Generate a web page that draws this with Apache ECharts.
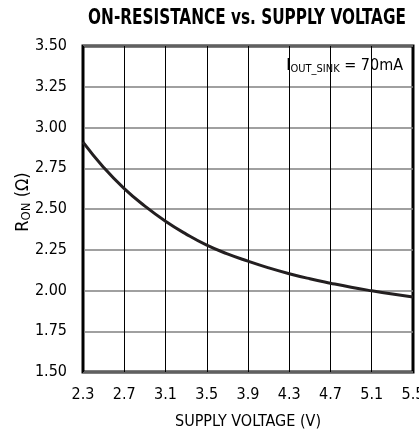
<!DOCTYPE html>
<html><head><meta charset="utf-8">
<script src="https://cdn.jsdelivr.net/npm/echarts@6/dist/echarts.min.js"></script>
<style>html,body{margin:0;padding:0;background:#fff}#c{width:419px;height:433px}</style>
</head><body><div id="c"></div>
<script>
const supplyVoltage = [2.3, 2.5, 2.7, 2.9, 3.1, 3.3, 3.5, 3.7, 3.9, 4.1, 4.3, 4.5, 4.7, 4.9, 5.1, 5.3, 5.5];
const onResistance = [2.91, 2.755, 2.625, 2.518, 2.425, 2.346, 2.278, 2.225, 2.18, 2.139, 2.103, 2.072, 2.045, 2.02, 1.998, 1.978, 1.96];
const xTicks = [2.3, 2.7, 3.1, 3.5, 3.9, 4.3, 4.7, 5.1, 5.5];
const yTicks = [1.5, 1.75, 2.0, 2.25, 2.5, 2.75, 3.0, 3.25, 3.5];
const FONT = 'DejaVu Sans Condensed';
const chart = echarts.init(document.getElementById('c'));
chart.setOption({
  animation: false,
  grid: {left: 83, right: 6, top: 46, bottom: 61, show: true, borderColor: '#000', borderWidth: 3, backgroundColor: 'transparent', outerBoundsMode: 'none'},
  xAxis: {
    type: 'value', min: 2.3, max: 5.5, interval: 0.4,
    name: 'SUPPLY VOLTAGE (V)', nameLocation: 'middle', nameGap: 42,
    nameTextStyle: {fontFamily: FONT, fontSize: 16, color: '#000'},
    axisLine: {show: false}, axisTick: {show: false},
    axisLabel: {fontFamily: FONT, fontSize: 16, color: '#000', margin: 15, formatter: v => v.toFixed(1), showMaxLabel: true},
    splitLine: {show: true, lineStyle: {color: '#000', width: 1}}
  },
  yAxis: {
    type: 'value', min: 1.5, max: 3.5, interval: 0.25,
    axisLine: {show: false}, axisTick: {show: false},
    axisLabel: {fontFamily: FONT, fontSize: 16, color: '#000', margin: 16, formatter: v => v.toFixed(2)},
    splitLine: {show: true, lineStyle: {color: '#808080', width: 1.5}}
  },
  graphic: [{
    type: 'text', x: 247, y: 18, scaleY: 1.25, originX: 0, originY: 0,
    style: {
      text: 'ON-RESISTANCE vs. SUPPLY VOLTAGE', align: 'center', verticalAlign: 'middle',
      fontFamily: FONT, fontWeight: 'bold', fontSize: 17, fill: '#000'
    }
  }, {
    type: 'text', x: 23, y: 202, rotation: Math.PI / 2,
    style: {
      text: '{n|R}{s|ON}{n| (Ω)}', align: 'center', verticalAlign: 'middle',
      rich: {n: {fontFamily: FONT, fontSize: 18, fill: '#000'}, s: {fontFamily: FONT, fontSize: 13, fill: '#000', padding: [8, 0, 0, 0]}}
    }
  }, {
    type: 'text', right: 14, top: 54,
    style: {
      text: '{n|I}{s|OUT_SINK}{n| = 70mA}',
      rich: {n: {fontFamily: FONT, fontSize: 16, fill: '#000'}, s: {fontFamily: FONT, fontSize: 11, fill: '#000', padding: [8, 0, 0, 0]}},
      backgroundColor: '#fff', padding: [2, 2]
    }
  }],
  series: [{
    type: 'line', smooth: true, symbol: 'none',
    data: supplyVoltage.map((x, i) => [x, onResistance[i]]),
    lineStyle: {color: '#231f20', width: 3}
  }]
});
</script></body></html>
